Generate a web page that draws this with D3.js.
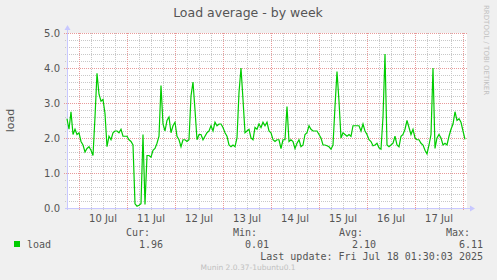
<!DOCTYPE html>
<html>
<head>
<meta charset="utf-8">
<script src="https://cdn.jsdelivr.net/npm/d3@7"></script>
<style>
  body { margin: 0; background: #f0f0f0; }
  svg { display: block; }
  text { fill: #555; }
</style>
</head>
<body>
<div id="chart"></div>
<script>
// Load average samples, one per hour starting Jul 9 18:00
const startTime = Date.UTC(2025, 6, 9, 18);
const endTime = Date.UTC(2025, 6, 18, 2);
const loadValues = [
  2.55, 2.25, 2.75, 2.1, 2.25, 2.1, 2.15, 1.9, 1.8, 1.6,
  1.7, 1.75, 1.65, 1.5, 2.6, 3.85, 3.25, 3.05, 3.1, 2.7,
  1.75, 2.05, 1.95, 2.15, 2.2, 2.2, 2.15, 2.25, 2.05, 2.05,
  2.05, 1.95, 1.9, 1.8, 0.12, 0.05, 0.08, 0.12, 2.1, 0.1,
  1.5, 1.5, 1.45, 1.65, 1.7, 1.85, 2.05, 3.5, 2.4, 2.2,
  2.5, 2.6, 2.15, 2.35, 2.45, 2.05, 1.95, 1.75, 1.95, 1.95,
  1.9, 1.95, 3.2, 3.6, 2.8, 1.95, 2.1, 2.1, 1.95, 2.05,
  2.15, 2.2, 2.35, 2.2, 2.45, 2.35, 2.4, 2.4, 2.3, 2.15,
  2.05, 1.8, 1.75, 1.8, 1.75, 2.0, 3.3, 4.0, 3.1, 2.15,
  2.2, 2.25, 2.0, 1.95, 2.3, 2.25, 2.4, 2.3, 2.45, 2.35,
  2.45, 2.2, 2.15, 1.95, 1.9, 1.95, 1.95, 1.7, 1.95, 1.95,
  2.9, 1.9, 1.95, 1.9, 1.7, 1.85, 1.95, 1.75, 1.8, 2.1,
  2.15, 2.35, 2.25, 2.2, 2.2, 2.2, 2.1, 2.0, 1.8, 1.8,
  1.78, 1.75, 1.68, 1.8, 2.9, 3.9, 3.05, 2.0, 2.15, 2.1,
  2.05, 2.1, 2.05, 2.35, 2.35, 2.35, 2.35, 2.2, 2.4, 2.2,
  2.1, 1.95, 1.9, 1.78, 1.8, 1.85, 1.72, 1.68, 2.6, 4.4,
  1.8, 1.75, 1.8, 1.85, 2.05, 1.8, 1.75, 2.05, 2.1, 2.25,
  2.5, 2.3, 2.1, 2.25, 2.0, 1.95, 1.95, 1.85, 1.8, 1.65,
  1.55, 1.8, 2.1, 4.0, 1.7, 2.0, 2.1, 2.0, 1.8, 1.85,
  1.8, 2.05, 2.25, 2.4, 2.75, 2.5, 2.55, 2.45, 2.2, 1.96
];
const yTickValues = [0, 1, 2, 3, 4, 5];
const dayLabels = ['10 Jul', '11 Jul', '12 Jul', '13 Jul', '14 Jul', '15 Jul', '16 Jul', '17 Jul'];
const statNames = ['Cur:', 'Min:', 'Avg:', 'Max:'];
const statValues = ['1.96', '0.01', '2.10', '6.11'];

const WIDTH = 497;
const HEIGHT = 280;
const LEFT = 67, RIGHT = 467, TOP = 33, BOTTOM = 208;

const xScale = d3.scaleUtc()
                 .domain([startTime, endTime])
                 .range([LEFT, RIGHT]);
const yScale = d3.scaleLinear()
                 .domain([0, 5])
                 .range([BOTTOM, TOP]);

const svg = d3.select('#chart')
              .append('svg')
              .attr('width', WIDTH)
              .attr('height', HEIGHT);

// plot canvas
svg.append('rect')
   .attr('x', LEFT).attr('y', TOP)
   .attr('width', RIGHT - LEFT).attr('height', BOTTOM - TOP)
   .attr('fill', '#fff');

// minor horizontal grid every 0.2
const minorY = d3.range(1, 25).map(d => d / 5).filter(d => d % 1 !== 0);
svg.append('g').selectAll('line')
   .data(minorY).enter().append('line')
   .attr('x1', LEFT - 2).attr('x2', RIGHT)
   .attr('y1', d => Math.round(yScale(d)) + 0.5)
   .attr('y2', d => Math.round(yScale(d)) + 0.5)
   .attr('stroke', '#c8c8c8').attr('stroke-dasharray', '1,1');

// minor vertical grid every 6 hours
const sixHours = d3.utcHour.every(6).range(new Date(startTime + 1), new Date(endTime));
svg.append('g').selectAll('line')
   .data(sixHours.filter(d => d.getUTCHours() !== 0)).enter().append('line')
   .attr('x1', d => Math.round(xScale(d)) + 0.5)
   .attr('x2', d => Math.round(xScale(d)) + 0.5)
   .attr('y1', TOP).attr('y2', BOTTOM + 2)
   .attr('stroke', '#c8c8c8').attr('stroke-dasharray', '1,1');

// major grid
svg.append('g').selectAll('line')
   .data(yTickValues.filter(d => d > 0)).enter().append('line')
   .attr('x1', LEFT - 3).attr('x2', RIGHT)
   .attr('y1', d => Math.round(yScale(d)) + 0.5)
   .attr('y2', d => Math.round(yScale(d)) + 0.5)
   .attr('stroke', '#e89a9a').attr('stroke-dasharray', '1,1');

const days = d3.utcDay.range(new Date(startTime), new Date(endTime));
svg.append('g').selectAll('line')
   .data(days).enter().append('line')
   .attr('x1', d => Math.round(xScale(d)) + 0.5)
   .attr('x2', d => Math.round(xScale(d)) + 0.5)
   .attr('y1', TOP).attr('y2', BOTTOM + 3)
   .attr('stroke', '#e89a9a').attr('stroke-dasharray', '1,1');

// y tick labels
svg.append('g').selectAll('text')
   .data(yTickValues).enter().append('text')
   .attr('x', 60).attr('y', d => yScale(d) + 3.5)
   .attr('text-anchor', 'end')
   .style('font', '10px "DejaVu Sans"')
   .text(d => d.toFixed(1));

// x labels at noon
svg.append('g').selectAll('text')
   .data(days.slice(0, dayLabels.length)).enter().append('text')
   .attr('x', d => xScale(d3.utcHour.offset(d, 12)))
   .attr('y', 221.5)
   .attr('text-anchor', 'middle')
   .style('font', '10px "DejaVu Sans"')
   .text((d, i) => dayLabels[i]);

// axes
svg.append('line')
   .attr('x1', LEFT + 0.5).attr('x2', LEFT + 0.5)
   .attr('y1', BOTTOM + 2).attr('y2', TOP - 4)
   .attr('stroke', '#c8c8ff');
svg.append('line')
   .attr('x1', LEFT - 2).attr('x2', RIGHT + 4)
   .attr('y1', BOTTOM + 0.5).attr('y2', BOTTOM + 0.5)
   .attr('stroke', '#c8c8ff');
svg.append('path')
   .attr('d', `M${LEFT - 2.5},${TOP - 3} L${LEFT + 3.5},${TOP - 3} L${LEFT + 0.5},${TOP - 8} Z`)
   .attr('fill', '#c8c8ff');
svg.append('path')
   .attr('d', `M${RIGHT + 3},${BOTTOM - 2.5} L${RIGHT + 3},${BOTTOM + 3.5} L${RIGHT + 8},${BOTTOM + 0.5} Z`)
   .attr('fill', '#c8c8ff');

// load line
const line = d3.line()
               .x((d, i) => xScale(d3.utcHour.offset(new Date(startTime), i)))
               .y(d => yScale(d));
svg.append('path')
   .datum(loadValues)
   .attr('d', line)
   .attr('fill', 'none')
   .attr('stroke', '#00cc00')
   .attr('stroke-width', 1.2);

// title and labels
svg.append('text')
   .attr('x', 248).attr('y', 17)
   .attr('text-anchor', 'middle')
   .style('font', '12.5px "DejaVu Sans"')
   .text('Load average - by week');

svg.append('text')
   .attr('transform', 'translate(14,' + ((TOP + BOTTOM) / 2) + ') rotate(-90)')
   .attr('text-anchor', 'middle')
   .style('font', '11px "DejaVu Sans"')
   .text('load');

svg.append('text')
   .attr('transform', 'translate(484,5) rotate(90)')
   .style('font', '7px "DejaVu Sans"')
   .style('fill', '#c0c0c0')
   .text('RRDTOOL / TOBI OETIKER');

// legend
const mono = '10px "DejaVu Sans Mono"';
const statRight = [150, 257, 363, 470];
const valueRight = [163, 269, 376, 483];
svg.append('g').selectAll('text')
   .data(statNames).enter().append('text')
   .attr('x', (d, i) => statRight[i]).attr('y', 235.5)
   .attr('text-anchor', 'end')
   .style('font', mono)
   .text(d => d);

svg.append('rect')
   .attr('x', 14).attr('y', 241)
   .attr('width', 6).attr('height', 6)
   .attr('fill', '#00cc00');
svg.append('text')
   .attr('x', 27).attr('y', 247.5)
   .style('font', mono)
   .text('load');

svg.append('g').selectAll('text')
   .data(statValues).enter().append('text')
   .attr('x', (d, i) => valueRight[i]).attr('y', 247.5)
   .attr('text-anchor', 'end')
   .style('font', mono)
   .text(d => d);

svg.append('text')
   .attr('x', 483).attr('y', 259.5)
   .attr('text-anchor', 'end')
   .style('font', mono)
   .text('Last update: Fri Jul 18 01:30:03 2025');

svg.append('text')
   .attr('x', 248).attr('y', 270)
   .attr('text-anchor', 'middle')
   .style('font', '7.5px "DejaVu Sans"')
   .style('fill', '#c0c0c0')
   .text('Munin 2.0.37-1ubuntu0.1');
</script>
</body>
</html>
